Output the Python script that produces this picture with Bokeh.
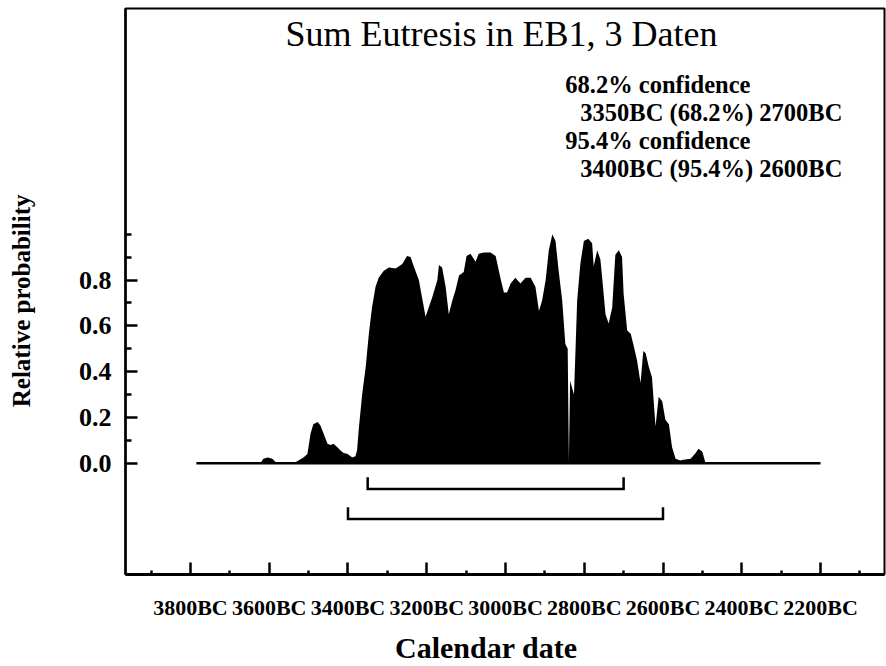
from bokeh.plotting import figure
from bokeh.models import Range1d, FixedTicker, Label, NumeralTickFormatter
from bokeh.embed import file_html
from bokeh.resources import INLINE

# ---------------- data ----------------
title_text = "Sum Eutresis in EB1, 3 Daten"
x_label = "Calendar date"
y_label = "Relative probability"

years_bc = [3785, 3622, 3615, 3604, 3592, 3584, 3576, 3538, 3528, 3513,
            3503, 3495, 3488, 3477, 3470, 3462, 3452, 3444, 3437, 3427,
            3419, 3411, 3401, 3389, 3381, 3377, 3372, 3364, 3355, 3347,
            3339, 3330, 3322, 3309, 3296, 3279, 3262, 3250, 3241, 3233,
            3220, 3212, 3203, 3195, 3186, 3173, 3169, 3161, 3152, 3144,
            3135, 3127, 3118, 3106, 3099, 3089, 3076, 3068, 3055, 3038,
            3025, 3013, 3004, 2996, 2987, 2975, 2962, 2949, 2936, 2924,
            2915, 2907, 2898, 2890, 2881, 2873, 2865, 2856, 2848, 2842,
            2839, 2836, 2826, 2818, 2810, 2801, 2790, 2780, 2776, 2767,
            2759, 2754, 2746, 2738, 2729, 2721, 2712, 2704, 2700, 2691,
            2682, 2674, 2666, 2657, 2650, 2644, 2636, 2628, 2619, 2611,
            2602, 2594, 2585, 2577, 2568, 2556, 2548, 2530, 2517, 2510,
            2500, 2492, 2200]
rel_prob = [0.0, 0.0, 0.02, 0.025, 0.02, 0.005, 0.0, 0.0, 0.01, 0.025,
            0.04, 0.13, 0.17, 0.18, 0.165, 0.13, 0.085, 0.08, 0.085, 0.07,
            0.055, 0.045, 0.04, 0.025, 0.03, 0.055, 0.16, 0.30, 0.42, 0.565,
            0.68, 0.77, 0.81, 0.84, 0.855, 0.85, 0.87, 0.905, 0.90, 0.86,
            0.80, 0.725, 0.64, 0.68, 0.725, 0.80, 0.865, 0.855, 0.77, 0.65,
            0.71, 0.755, 0.82, 0.835, 0.905, 0.915, 0.88, 0.915, 0.92, 0.92,
            0.905, 0.81, 0.745, 0.745, 0.785, 0.81, 0.785, 0.81, 0.81, 0.77,
            0.665, 0.71, 0.80, 0.93, 1.0, 0.97, 0.84, 0.71, 0.52, 0.50,
            0.01, 0.36, 0.30, 0.71, 0.87, 0.97, 0.98, 0.96, 0.86, 0.93,
            0.89, 0.80, 0.65, 0.61, 0.68, 0.91, 0.93, 0.90, 0.74, 0.58,
            0.565, 0.51, 0.45, 0.35, 0.49, 0.48, 0.42, 0.375, 0.16, 0.29,
            0.27, 0.19, 0.17, 0.07, 0.02, 0.012, 0.015, 0.02, 0.045, 0.063,
            0.05, 0.0, 0.0]

conf_levels = ["68.2%", "95.4%"]
range_from = [3350, 3400]
range_to = [2700, 2600]

x_ticks = [3800, 3600, 3400, 3200, 3000, 2800, 2600, 2400, 2200]
x_minor = [3900, 3700, 3500, 3300, 3100, 2900, 2700, 2500, 2300, 2100]
x_tick_labels = [f"{y}BC" for y in x_ticks]
y_ticks = [0.0, 0.2, 0.4, 0.6, 0.8]
y_minor = [0.1, 0.3, 0.5, 0.7, 0.9, 1.0]

# ---------------- figure ----------------
FONT = "Liberation Serif"
NBSP = "\u00a0"

p = figure(width=886, height=666,
           x_range=Range1d(3965, 2037.5), y_range=Range1d(-0.486, 1.9856),
           output_backend="svg", toolbar_location=None,
           min_border_left=125, min_border_right=2,
           min_border_top=8, min_border_bottom=92)
p.xgrid.visible = False
p.ygrid.visible = False
p.background_fill_color = "white"
p.border_fill_color = "white"
p.outline_line_color = "black"
p.outline_line_width = 2

# distribution
p.varea(x=years_bc, y1=[0.0] * len(years_bc), y2=rel_prob,
        fill_color="black", fill_alpha=1.0)
p.line(x=[years_bc[0], years_bc[-1]], y=[0, 0], line_color="black", line_width=2.5)

# range brackets
levels = [-0.113, -0.244]
tick_h = 0.052
xs = [[a, a, b, b] for a, b in zip(range_from, range_to)]
ys = [[lv + tick_h, lv, lv, lv + tick_h] for lv in levels]
p.multi_line(xs=xs, ys=ys, line_color="black", line_width=2.5, line_join="miter")

# axes
xa = p.xaxis[0]
xa.ticker = FixedTicker(ticks=x_ticks, minor_ticks=x_minor)
xa.major_label_overrides = {t: l for t, l in zip(x_ticks, x_tick_labels)}
xa.axis_line_width = 3
xa.major_tick_in = 12
xa.major_tick_out = 0
xa.minor_tick_in = 4
xa.minor_tick_out = 0
xa.major_tick_line_width = 2.5
xa.minor_tick_line_width = 2.5
xa.major_label_text_font = FONT
xa.major_label_text_font_style = "bold"
xa.major_label_text_font_size = "22px"
xa.major_label_text_color = "black"
xa.major_label_standoff = 20
xa.axis_label = x_label + NBSP * 5
xa.axis_label_text_font = FONT
xa.axis_label_text_font_style = "bold"
xa.axis_label_text_font_size = "30px"
xa.axis_label_text_color = "black"
xa.axis_label_standoff = 8

ya = p.yaxis[0]
ya.ticker = FixedTicker(ticks=y_ticks, minor_ticks=y_minor)
ya.formatter = NumeralTickFormatter(format="0.0")
ya.axis_line_width = 2.5
ya.major_tick_in = 12
ya.major_tick_out = 0
ya.minor_tick_in = 6
ya.minor_tick_out = 0
ya.major_tick_line_width = 2.5
ya.minor_tick_line_width = 2.5
ya.major_label_text_font = FONT
ya.major_label_text_font_style = "bold"
ya.major_label_text_font_size = "26px"
ya.major_label_text_color = "black"
ya.major_label_standoff = 14
ya.axis_label = y_label + NBSP * 3
ya.axis_label_text_font = FONT
ya.axis_label_text_font_style = "bold"
ya.axis_label_text_font_size = "25px"
ya.axis_label_text_color = "black"
ya.axis_label_standoff = 41

# title inside the frame
p.add_layout(Label(x=3010, y=1.874, text=title_text, text_align="center",
                   text_baseline="middle", text_font=FONT,
                   text_font_size="36px", text_color="black"))

# confidence text block
conf_lines = []
for lvl, a, b in zip(conf_levels, range_from, range_to):
    conf_lines.append((f"{lvl} confidence", 2848))
    conf_lines.append((f"{a}BC ({lvl}) {b}BC", 2810))
conf_y = [1.654, 1.531, 1.409, 1.287]
for (txt, xx), yy in zip(conf_lines, conf_y):
    p.add_layout(Label(x=xx, y=yy, text=txt, text_align="left",
                       text_baseline="middle", text_font=FONT,
                       text_font_style="bold", text_font_size="24.5px",
                       text_color="black"))

open("out.html", "w").write(file_html(p, INLINE))
